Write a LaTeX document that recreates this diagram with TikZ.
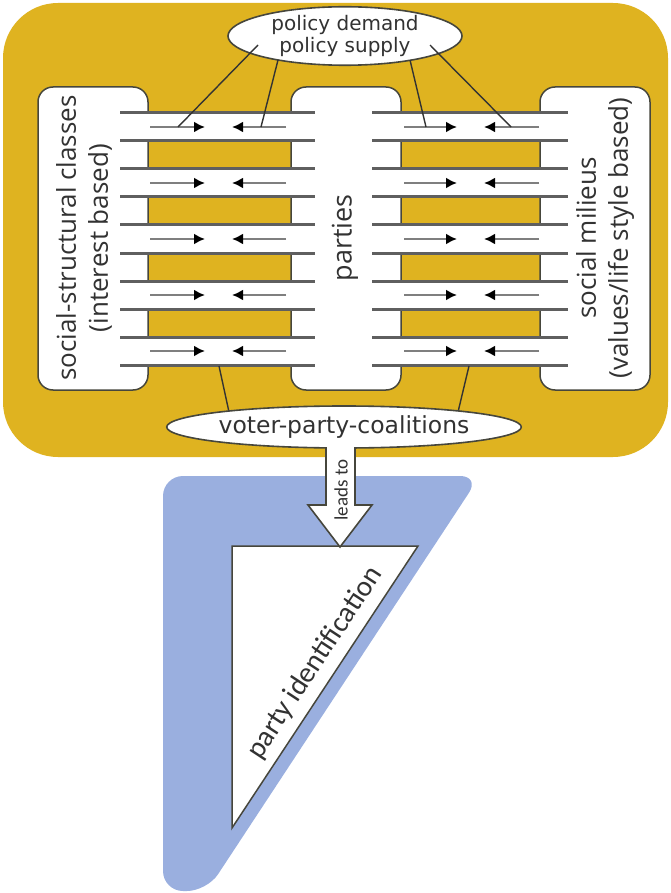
\documentclass[tikz,border=0pt]{standalone}
\usepackage{fontspec}
\setmainfont{DejaVu Sans}
\newfontfamily\osf{Open Sans}
\newfontfamily\cbf{Carlito}
\usetikzlibrary{shapes.geometric,arrows.meta}
\definecolor{gold}{RGB}{223,179,32}
\definecolor{bluegray}{RGB}{154,175,223}
\definecolor{lineg}{RGB}{95,95,95}
\definecolor{outl}{RGB}{70,70,60}
\definecolor{txt}{RGB}{50,50,50}
\begin{document}
\begin{tikzpicture}[x=1pt,y=-1pt,
  wbox/.style={draw=outl,fill=white,line width=1.5pt,rounded corners=15pt,minimum width=110pt,minimum height=303pt,inner sep=0pt},
  bandline/.style={draw=lineg,line width=3pt},
  flow/.style={draw=lineg!80,line width=2.2pt,-{Latex[length=11pt,width=11pt,color=black]}},
  conn/.style={draw=black!80,line width=1.4pt},
  ell/.style={ellipse,draw=outl,fill=white,line width=1.6pt,inner sep=0pt,text=txt},
  lab/.style={text=txt,align=center,rotate=90,inner sep=0pt}]
\useasboundingbox (0,0) rectangle (671,893);
% gold background
\fill[gold,rounded corners=55pt] (3,3) rectangle (668,457);
% blue shape and triangle
\fill[bluegray,rounded corners=20pt] (163,476) -- (480,476) -- (207,891) -- (163,891) -- cycle;
\draw[outl,fill=white,line width=1.5pt] (232,546) -- (418,546) -- (232,828) -- cycle;
\node[text=txt,rotate=56.7,inner sep=0pt,font=\cbf\fontsize{29}{34}\selectfont] (pid) at (315,663) {party identification};
% boxes
\node[wbox] (lbox) at (93,238.5) {};
\node[wbox] (pbox) at (346,238.5) {};
\node[wbox] (rbox) at (595,238.5) {};
% bands
\foreach \k in {0,...,4}{
  \fill[white] (146,{113+56*\k}) rectangle (292,{141+56*\k});
  \fill[white] (400,{113+56*\k}) rectangle (542,{141+56*\k});
  \draw[bandline] (120,{113+56*\k}) -- (315,{113+56*\k});
  \draw[bandline] (120,{141+56*\k}) -- (315,{141+56*\k});
  \draw[bandline] (372,{113+56*\k}) -- (568,{113+56*\k});
  \draw[bandline] (372,{141+56*\k}) -- (568,{141+56*\k});
  \draw[flow] (150,{127+56*\k}) -- (205,{127+56*\k});
  \draw[flow] (286,{127+56*\k}) -- (232,{127+56*\k});
  \draw[flow] (404,{127+56*\k}) -- (457,{127+56*\k});
  \draw[flow] (539,{127+56*\k}) -- (484,{127+56*\k});
}
% labels
\node[lab,font=\osf\fontsize{26}{32}\selectfont] (llab) at (84,238) {social-structural classes\\(interest based)};
\node[lab,font=\osf\fontsize{27}{32}\selectfont] (plab) at (345,238) {parties};
\node[lab,font=\osf\fontsize{26}{32}\selectfont] (rlab) at (605,238) {social milieus\\(values/life style based)};
% bottom connectors
\coordinate (b1) at (219,366);
\coordinate (b2) at (469,366);
\coordinate (v1) at (229,412);
\coordinate (v2) at (458,412);
\draw[conn] (b1) -- (v1);
\draw[conn] (b2) -- (v2);
% ellipses
\node[ell,minimum width=234pt,minimum height=48pt,font=\fontsize{20}{22}\selectfont,align=center] (pol) at (345,36) {policy demand\\policy supply};
\node[ell,minimum width=338pt,minimum height=42pt,font=\fontsize{23.5}{26}\selectfont] (vot) at (344,427) {voter-party-coalitions};
% policy connectors
\coordinate (p1) at (258,45);
\coordinate (p2) at (278,60);
\coordinate (p3) at (410,60);
\coordinate (p4) at (430,45);
\coordinate (a1) at (178,127);
\coordinate (a2) at (261,127);
\coordinate (a3) at (426,127);
\coordinate (a4) at (511,127);
\draw[conn] (p1) -- (a1);
\draw[conn] (p2) -- (a2);
\draw[conn] (p3) -- (a3);
\draw[conn] (p4) -- (a4);
% leads to arrow
\fill[white] (326,440) -- (326,505) -- (308,505) -- (340,547) -- (372,505) -- (355,505) -- (355,440) -- cycle;
\draw[outl,line width=1.6pt] (326,447) -- (326,505) -- (308,505) -- (340,547) -- (372,505) -- (355,505) -- (355,447);
\node[lab,font=\cbf\fontsize{19}{22}\selectfont] (lto) at (341,490) {leads to};
\end{tikzpicture}
\end{document}
